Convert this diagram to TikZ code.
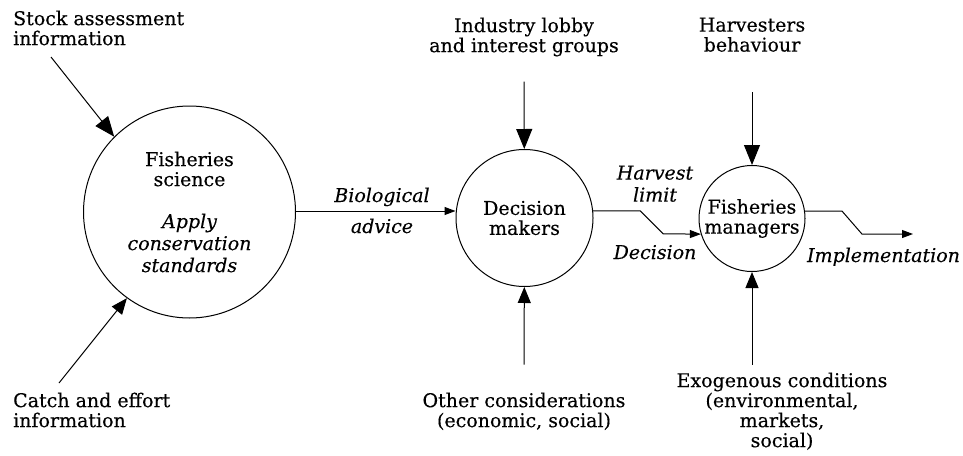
\documentclass[tikz,border=0pt]{standalone}
\usepackage{fontspec}
\setmainfont{DejaVu Serif}[FakeBold=0.3]
\usetikzlibrary{arrows.meta}

\begin{document}
\begin{tikzpicture}[x=1pt,y=-1pt,
  txt/.style={font=\fontsize{19}{20}\selectfont, align=center, inner sep=0pt},
  itxt/.style={txt, font=\fontsize{19}{22}\selectfont\itshape},
  proc/.style={draw, circle, line width=1pt, inner sep=0pt, txt},
  bigarr/.style={line width=1pt, -{Triangle[length=20pt,width=16pt]}},
  midarr/.style={line width=1pt, -{Triangle[length=16pt,width=13pt]}},
  smallarr/.style={line width=1pt, -{Triangle[length=11pt,width=8pt]}}]
\useasboundingbox (0,0) rectangle (963,455);
% the three process circles
\node [proc, minimum size=212pt] (sci) at (189.5,212)
  {Fisheries\\science\\[22pt]\itshape Apply\\[2pt]\itshape conservation\\[2pt]\itshape standards};
\node [proc, minimum size=137pt] (dec) at (524.5,218) {Decision\\makers};
\node [proc, minimum size=106pt] (mgr) at (752,218.5) {Fisheries\\managers};
% outside inputs
\node [txt, anchor=north west, align=left] (stock) at (13,10.5) {Stock assessment\\information};
\node [txt, anchor=north west, align=left] (catch) at (13,392.5) {Catch and effort\\information};
\node [txt, anchor=north] (lobby) at (524,17.5) {Industry lobby\\and interest groups};
\node [txt, anchor=north] (other) at (524,392.5) {Other considerations\\(economic, social)};
\node [txt, anchor=north] (harv) at (752,17.5) {Harvesters\\behaviour};
\node [txt, anchor=north] (exo) at (782,372.5) {Exogenous conditions\\(environmental,\\markets,\\social)};
\coordinate (stockin) at (51,57);
\coordinate (catchin) at (59,383);
\draw [bigarr] (stockin) -- (sci.135);
\draw [midarr] (catchin) -- (sci.234);
\draw [bigarr, shorten <=25pt] (lobby.south) -- (dec);
\draw [midarr, shorten <=28pt] (other.north) -- (dec);
\draw [bigarr, shorten <=40pt] (harv.south) -- (mgr);
\draw [midarr, shorten <=8pt] (exo.north -| mgr) -- (mgr);
% flows between the circles
\node [itxt, anchor=base] (bio) at (382,202) {Biological};
\node [itxt, anchor=base] (adv) at (382,233) {advice};
\draw [smallarr] (sci.east |- 0,211) -- (dec.west |- 0,211);
\node [itxt, anchor=north] (hlim) at (655,165.5) {Harvest\\limit};
\node [itxt, anchor=base] (decis) at (655,259) {Decision};
\draw [smallarr] (dec.6) -- ++(47,0) -- ++(23,23) -- (mgr.197);
\coordinate (implout) at (913,234);
\node [itxt, anchor=base] (impl) at (883.5,262) {Implementation};
\draw [smallarr] (mgr.8) -- ++(37,0) -- ++(20,23) -- (implout);
\end{tikzpicture}
\end{document}
